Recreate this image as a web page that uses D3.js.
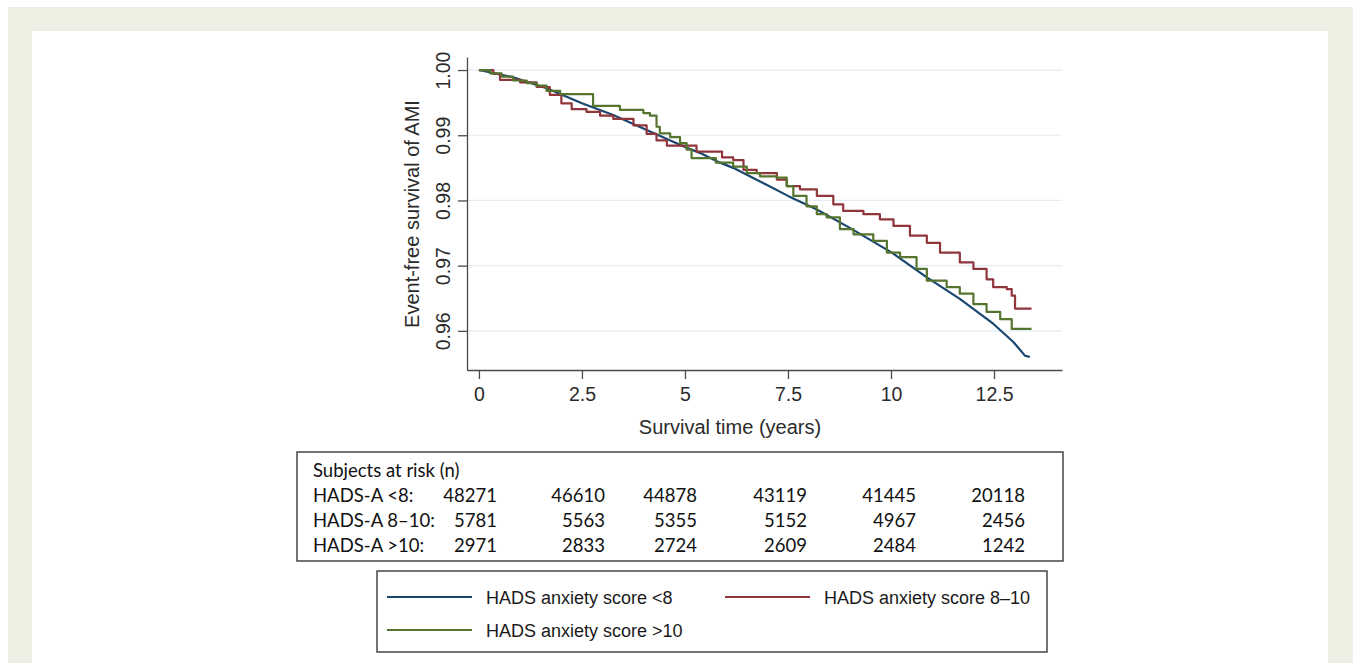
<!DOCTYPE html>
<html lang="en">
  <head>
    <meta charset="utf-8">
    <title>Event-free survival of AMI by HADS anxiety score</title>
    <style type="text/css">
      body{
        margin: 0;
        background-color: white;
      }svg{
        display: block;
      }.axis text{
        font-family: "Liberation Sans", Arial, sans-serif;
        font-size: 19.5px;
        fill: #2b2b2b;
      }.axis path, .axis line{
        stroke: #4a4a4a;
        stroke-width: 1.3px;
      }.grid{
        stroke: #e2edf1;
        stroke-width: 1.2px;
      }.title{
        font-family: "Liberation Sans", Arial, sans-serif;
        font-size: 20px;
        fill: #2b2b2b;
      }.risk{
        font-family: Lato, "Open Sans", sans-serif;
        font-size: 18.5px;
        fill: #111;
      }.legend{
        font-family: "Liberation Sans", Arial, sans-serif;
        font-size: 18px;
        fill: #1a1a1a;
      }.box{
        fill: white;
        stroke: #3a3a3a;
        stroke-width: 1.4px;
      }
    </style>
  </head>
  <body>
    <div id='svg_container'></div>

    <script src="https://d3js.org/d3.v7.min.js"></script>
    <script type="text/javascript">

      // Kaplan-Meier curves: [years, survival]
      const hadsLow = [[0,1.0],[0.83,0.9989],[1.64,0.9972],[2.5,0.9949],[3.26,0.9931],[4.07,0.9908],
        [5.0,0.9882],[5.36,0.9873],[5.85,0.9858],[6.17,0.9850],[6.98,0.9824],[7.5,0.9807],[8.2,0.9786],
        [9.0,0.9758],[10.02,0.9720],[10.87,0.9682],[11.67,0.9649],[12.48,0.9611],[12.97,0.9583],
        [13.25,0.9562],[13.37,0.9560]];

      const hadsMid = [[0,1.0],[0.35,0.9994],[0.51,0.9985],[1.0,0.9981],[1.4,0.9974],[1.72,0.9962],
        [2.0,0.9949],[2.25,0.9940],[2.61,0.9936],[2.94,0.9930],[3.26,0.9925],[3.75,0.9915],[4.07,0.9902],
        [4.31,0.9892],[4.56,0.9884],[5.28,0.9875],[5.9,0.9866],[6.17,0.9862],[6.42,0.9847],[6.74,0.9842],
        [7.23,0.9832],[7.47,0.9822],[7.79,0.9817],[8.2,0.9807],[8.6,0.9794],[8.84,0.9784],[9.33,0.9779],
        [9.73,0.9771],[10.06,0.9761],[10.46,0.9746],[10.87,0.9735],[11.19,0.9720],[11.67,0.9705],
        [12.0,0.9695],[12.32,0.9679],[12.48,0.9667],[12.81,0.9664],[12.93,0.9654],[13.01,0.9634],
        [13.41,0.9634]];

      const hadsHigh = [[0,1.0],[0.27,0.9995],[0.55,0.9990],[0.83,0.9984],[1.16,0.9980],[1.4,0.9976],
        [1.64,0.9968],[1.97,0.9963],[2.77,0.9945],[3.42,0.9939],[3.99,0.9934],[4.15,0.9930],[4.31,0.9913],
        [4.39,0.9903],[4.64,0.9897],[4.88,0.9888],[5.04,0.9878],[5.16,0.9865],[5.75,0.9858],[6.17,0.9852],
        [6.5,0.9842],[6.82,0.9837],[7.23,0.9835],[7.47,0.9822],[7.63,0.9807],[7.95,0.9791],[8.2,0.9779],
        [8.44,0.9774],[8.76,0.9756],[9.09,0.9748],[9.57,0.9738],[9.9,0.9720],[10.22,0.9713],[10.62,0.9695],
        [10.87,0.9677],[11.35,0.9667],[11.67,0.9657],[12.0,0.9641],[12.32,0.9629],[12.65,0.9618],
        [12.93,0.9603],[13.41,0.9603]];

      const xTicks = [0, 2.5, 5, 7.5, 10, 12.5];
      const yTicks = [0.96, 0.97, 0.98, 0.99, 1.00];

      const seriesNames = ['HADS anxiety score <8', 'HADS anxiety score 8\u201310', 'HADS anxiety score >10'];
      const seriesColors = ['#1a476f', '#90353b', '#55752f'];

      const riskTitle = 'Subjects at risk (n)';
      const riskGroups = ['HADS-A <8:', 'HADS-A 8\u201310:', 'HADS-A >10:'];
      const riskLow = [48271, 46610, 44878, 43119, 41445, 20118];
      const riskMid = [5781, 5563, 5355, 5152, 4967, 2456];
      const riskHigh = [2971, 2833, 2724, 2609, 2484, 1242];

      const W = 1357;
      const H = 663;

      const svg = d3.select('#svg_container').append('svg').attr('width', W).attr('height', H);

      // page frame
      svg.append('rect').attr('x', 8).attr('y', 7).attr('width', 1345).attr('height', H).attr('fill', '#efeee3');
      svg.append('rect').attr('x', 32).attr('y', 31).attr('width', 1296).attr('height', H).attr('fill', 'white');

      const x = d3.scaleLinear().domain([-0.29, 14.15]).range([467, 1062]);
      const y = d3.scaleLinear().domain([0.954, 1.002]).range([370, 57]);

      svg.append('g').selectAll('line').data(yTicks).enter().append('line').attr('class', 'grid')
        .attr('x1', x.range()[0]).attr('x2', x.range()[1]).attr('y1', d => y(d)).attr('y2', d => y(d));

      const xAxis = d3.axisBottom(x).tickValues(xTicks).tickSize(9).tickSizeOuter(0).tickFormat(d3.format('~g'));
      const gx = svg.append('g').attr('class', 'axis').attr('transform', 'translate(0,' + y.range()[0] + ')').call(xAxis);
      gx.selectAll('text').attr('y', 17).attr('dy', '0.71em');

      const yAxis = d3.axisLeft(y).tickValues(yTicks).tickSize(9).tickSizeOuter(0).tickFormat(d3.format('.2f'));
      const gy = svg.append('g').attr('class', 'axis').attr('transform', 'translate(' + x.range()[0] + ',0)').call(yAxis);
      gy.selectAll('text').attr('transform', 'rotate(-90)').attr('x', 0).attr('y', -17).attr('dy', 0)
        .style('text-anchor', 'middle');

      svg.append('text').attr('class', 'title').attr('text-anchor', 'middle')
        .attr('transform', 'translate(419,214) rotate(-90)').text('Event-free survival of AMI');
      svg.append('text').attr('class', 'title').attr('text-anchor', 'middle')
        .attr('x', 730).attr('y', 434).text('Survival time (years)');

      // curves
      const smooth = d3.line().x(d => x(d[0])).y(d => y(d[1]));
      const step = d3.line().x(d => x(d[0])).y(d => y(d[1])).curve(d3.curveStepAfter);

      [[hadsLow, smooth, 0], [hadsMid, step, 1], [hadsHigh, step, 2]].forEach(function(s){
        svg.append('path').attr('d', s[1](s[0])).attr('fill', 'none')
          .attr('stroke', seriesColors[s[2]]).attr('stroke-width', 2.2).attr('stroke-linejoin', 'round');
      });

      // numbers at risk
      svg.append('rect').attr('class', 'box').attr('x', 297).attr('y', 452).attr('width', 766).attr('height', 109);
      const colX = d3.scaleOrdinal().domain(d3.range(6)).range([497, 605, 697, 807, 916, 1025]);
      const rowY = d3.scalePoint().domain([0, 1, 2, 3]).range([477, 552]);
      svg.append('text').attr('class', 'risk').attr('x', 313).attr('y', rowY(0)).text(riskTitle);
      [riskLow, riskMid, riskHigh].forEach(function(row, i){
        svg.append('text').attr('class', 'risk').attr('x', 313).attr('y', rowY(i + 1)).text(riskGroups[i]);
        svg.append('g').selectAll('text').data(row).enter().append('text').attr('class', 'risk')
          .attr('text-anchor', 'end').attr('x', (d, j) => colX(j)).attr('y', rowY(i + 1)).text(d => d);
      });

      // legend
      svg.append('rect').attr('class', 'box').attr('x', 377).attr('y', 571).attr('width', 670).attr('height', 81);
      const legPos = [[387, 597], [725, 597], [387, 630]];
      seriesNames.forEach(function(name, i){
        const p = legPos[i];
        svg.append('line').attr('x1', p[0]).attr('x2', p[0] + 85).attr('y1', p[1]).attr('y2', p[1])
          .attr('stroke', seriesColors[i]).attr('stroke-width', 2.2);
        svg.append('text').attr('class', 'legend').attr('x', p[0] + 99).attr('y', p[1] + 6.5).text(name);
      });

    </script>
  </body>
</html>
